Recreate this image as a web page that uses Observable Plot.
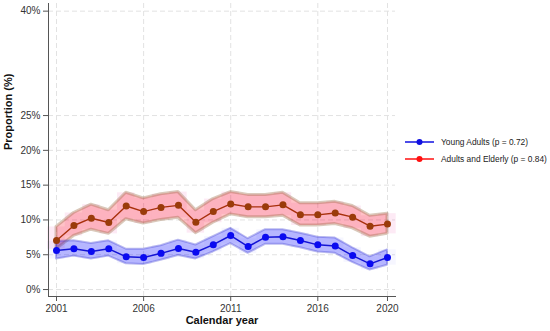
<!DOCTYPE html>
<html>
<head>
<meta charset="utf-8">
<script src="https://cdn.jsdelivr.net/npm/d3@7"></script>
<script src="https://cdn.jsdelivr.net/npm/@observablehq/plot@0.6"></script>
<style>
  body { margin: 0; background: #fff; }
  #wrap { position: relative; width: 550px; height: 331px; font-family: "Liberation Sans", Arial, sans-serif; }
  #legend { position: absolute; left: 405px; top: 134px; width: 145px; font-size: 8.4px; color: #222; white-space: nowrap; }
  .item { display: flex; align-items: center; height: 16.5px; }
  .item svg { margin-right: 7px; flex: none; }
</style>
</head>
<body>
<div id="wrap"><div id="chart"></div><div id="legend"></div></div>
<script>
const years = [2001,2002,2003,2004,2005,2006,2007,2008,2009,2010,2011,2012,2013,2014,2015,2016,2017,2018,2019,2020];
const youngAdults = [5.6,5.85,5.46,5.85,4.7,4.6,5.2,5.9,5.35,6.45,7.76,6.18,7.52,7.57,7.04,6.42,6.27,4.88,3.69,4.6];
const youngLow    = [4.4,4.8,4.4,4.8,3.7,3.6,4.2,4.9,4.4,5.4,6.6,5.2,6.5,6.5,6.0,5.4,5.2,3.9,2.8,3.5];
const youngHigh   = [6.9,7.0,6.6,7.0,5.8,5.8,6.3,7.1,6.4,7.6,8.8,7.3,8.6,8.6,8.1,7.5,7.4,6.0,4.7,5.7];
const adultsElderly = [7.04,9.2,10.25,9.63,12.0,11.2,11.8,12.1,9.67,11.2,12.3,11.88,11.88,12.17,10.73,10.73,11.0,10.4,9.1,9.4];
const adultsLow     = [5.8,7.7,8.6,8.0,10.1,9.5,10.0,10.3,8.1,9.6,10.8,10.4,10.4,10.6,9.2,9.2,9.4,8.8,7.6,8.0];
const adultsHigh    = [9.0,11.0,12.2,11.4,13.9,13.1,13.7,14.0,11.4,13.0,14.0,13.6,13.6,13.9,12.4,12.4,12.6,12.0,10.6,10.9];
const yTicks = [0,5,10,15,20,25,40];
const xTicks = [2001,2006,2011,2016,2020];
const seriesNames = ["Young Adults (p = 0.72)", "Adults and Elderly (p = 0.84)"];
const xLabel = "Calendar year";
const yLabel = "Proportion (%)";

const young = years.map((y,i) => ({year:y, v:youngAdults[i], lo:youngLow[i], hi:youngHigh[i]}));
const adults = years.map((y,i) => ({year:y, v:adultsElderly[i], lo:adultsLow[i], hi:adultsHigh[i]}));

const chart = Plot.plot({
  width: 550, height: 331,
  marginLeft: 48, marginRight: 155, marginTop: 3, marginBottom: 35,
  style: {fontFamily: "'Liberation Sans', Arial, sans-serif", fontSize: "10px", color: "#333", background: "#fff"},
  x: {domain: [2000.54, 2020.46]},
  y: {domain: [-1.0, 41.1]},
  marks: [
    Plot.gridY(yTicks, {stroke: "#e2e2e2", strokeOpacity: 1, strokeDasharray: "5,3"}),
    Plot.gridX(xTicks, {stroke: "#e2e2e2", strokeOpacity: 1, strokeDasharray: "5,3"}),
    // step bands
    Plot.rect(adults, {x1: d => d.year - 0.5, x2: d => d.year + 0.5, y1: "lo", y2: "hi", fill: "rgba(240,60,160,0.11)"}),
    Plot.rect(young, {x1: d => d.year - 0.5, x2: d => d.year + 0.5, y1: "lo", y2: "hi", fill: "rgba(80,80,255,0.05)"}),
    // CI bands
    Plot.areaY(adults, {x: "year", y1: "lo", y2: "hi", fill: "rgba(255,0,20,0.24)", stroke: "rgba(150,100,60,0.35)", strokeWidth: 3}),
    Plot.areaY(young, {x: "year", y1: "lo", y2: "hi", fill: "rgba(0,0,255,0.26)", stroke: "rgba(60,60,210,0.35)", strokeWidth: 2}),
    // lines
    Plot.lineY(adults, {x: "year", y: "v", stroke: "#a8300c", strokeWidth: 1.4}),
    Plot.dot(adults, {x: "year", y: "v", r: 3.5, fill: "#9a3b0a", stroke: "none"}),
    Plot.lineY(young, {x: "year", y: "v", stroke: "#1414d4", strokeWidth: 1.5}),
    Plot.dot(young, {x: "year", y: "v", r: 3.5, fill: "#0a0af0", stroke: "none"}),
    // axes
    Plot.axisY(yTicks, {tickSize: 5, tickPadding: 3, tickFormat: d => d + "%", label: null, stroke: "#555", fill: "#333"}),
    Plot.axisX(xTicks, {tickSize: 5, tickPadding: 3, tickFormat: d => String(d), label: null, stroke: "#555", fill: "#333"}),
    Plot.frame({anchor: "left", stroke: "#555"}),
    Plot.frame({anchor: "bottom", stroke: "#555"}),
    Plot.text([xLabel], {frameAnchor: "bottom", dy: 27, fontWeight: "bold", fontSize: 11, fill: "#111"}),
    Plot.text([yLabel], {frameAnchor: "left", dx: -40, rotate: -90, fontWeight: "bold", fontSize: 11, fill: "#111"})
  ]
});
document.getElementById("chart").appendChild(chart);

const legendColors = ["#1010e0", "#ff1010"];
const legend = document.getElementById("legend");
seriesNames.forEach((name, i) => {
  const div = document.createElement("div");
  div.className = "item";
  div.innerHTML = `<svg width="29" height="8"><line x1="0" x2="29" y1="4" y2="4" stroke="${legendColors[i]}" stroke-width="1.5"/><circle cx="14.5" cy="4" r="3" fill="${legendColors[i]}"/></svg><span>${name}</span>`;
  legend.appendChild(div);
});
</script>
</body>
</html>
